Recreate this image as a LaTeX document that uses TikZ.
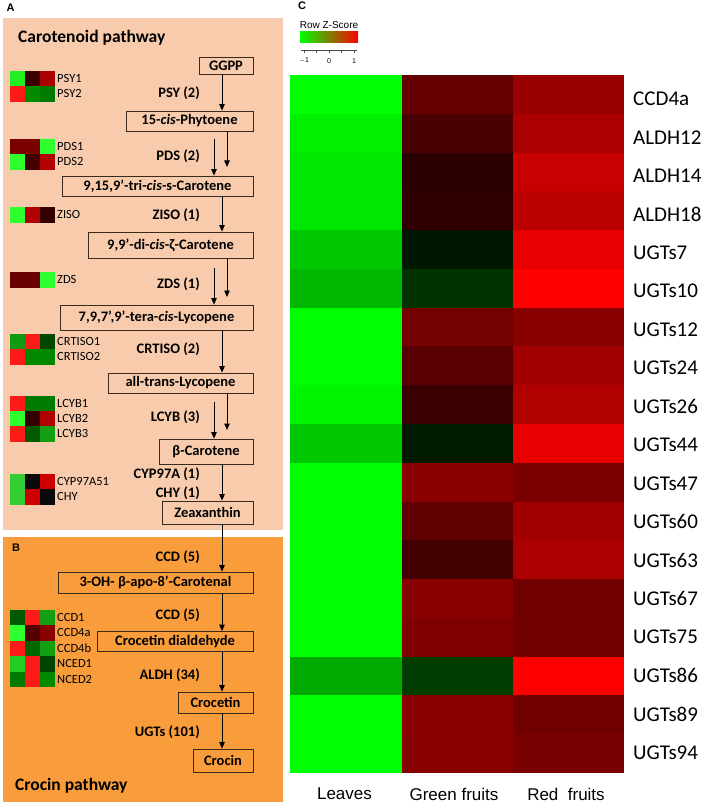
\documentclass[tikz,border=0pt]{standalone}
\usepackage{fontspec}
\setmainfont{Carlito}
\newfontfamily\arialfont{Liberation Sans}
\usetikzlibrary{arrows.meta}
\definecolor{carbg}{HTML}{F8CBAD}
\definecolor{crobg}{HTML}{F99D3C}
\definecolor{boxline}{HTML}{3A2A1C}
\definecolor{keygreen}{HTML}{00FF00}
\definecolor{keyred}{HTML}{FF0000}

% one row of a small expression strip: y, three colours, gene name
\newcommand{\generow}[5]{%
  \definecolor{gca}{HTML}{#2}\definecolor{gcb}{HTML}{#3}\definecolor{gcc}{HTML}{#4}%
  \fill[gca] (10,#1) rectangle ++(15.3,15.6);
  \fill[gcb] (25,#1) rectangle ++(15.3,15.6);
  \fill[gcc] (40,#1) rectangle ++(15,15.6);
  \node[gene] (g-#5) at (57,#1+7.5) {#5};
}

\begin{document}
\begin{tikzpicture}[x=1pt, y=-1pt,
    every node/.style={inner sep=0pt},
    box/.style={rectangle, draw=boxline, line width=0.8pt, font=\fontsize{14.5}{16}\selectfont\bfseries},
    enz/.style={anchor=east, font=\fontsize{14.5}{16}\selectfont\bfseries},
    gene/.style={anchor=west, font=\fontsize{12.5}{13}\selectfont},
    ttl/.style={anchor=base west, font=\fontsize{17.5}{19}\selectfont\bfseries},
    panel/.style={font=\arialfont\fontsize{11}{12}\selectfont\bfseries},
    hlab/.style={anchor=west, font=\fontsize{21}{23}\selectfont},
    clab/.style={font=\arialfont\fontsize{17}{19}\selectfont},
    keylab/.style={font=\arialfont\fontsize{7}{8}\selectfont},
    arr/.style={-{Triangle[length=6.5pt, width=5.5pt]}, line width=0.8pt}
  ]
  \useasboundingbox (0,0) rectangle (708,805);

  % panels A and B
  \fill[carbg] (3,18) rectangle (283,530);
  \fill[crobg] (3,537) rectangle (283,802);
  \node[panel] (pA) at (10.5,7.5) {A};
  \node[panel] (pB) at (16,547.5) {B};
  \node[panel] (pC) at (302,6) {C};
  \node[ttl] (tcar) at (18,43) {Carotenoid pathway};
  \node[ttl] (tcro) at (15,790) {Crocin pathway};

  % metabolites
  \node[box, minimum width=54, minimum height=17] (ggpp) at (226,65.5) {GGPP};
  \node[box, minimum width=127, minimum height=20] (phyt) at (189.5,121) {15-\textit{cis}-Phytoene};
  \node[box, minimum width=191, minimum height=20] (tricar) at (157.5,186) {9,15,9’-tri-\textit{cis}-s-Carotene};
  \node[box, minimum width=165, minimum height=26] (zcar) at (170.5,245) {9,9’-di-\textit{cis}-ζ-Carotene};
  \node[box, minimum width=193, minimum height=25] (tlyc) at (156.5,317.5) {7,9,7’,9’-tera-\textit{cis}-Lycopene};
  \node[box, minimum width=145, minimum height=20] (alyc) at (180.5,383) {all-trans-Lycopene};
  \node[box, minimum width=94, minimum height=25] (bcar) at (206,451.5) {β-Carotene};
  \node[box, minimum width=91, minimum height=23] (zea) at (207.5,512.5) {Zeaxanthin};
  \node[box, minimum width=195, minimum height=21] (apo) at (155.5,582.5) {3-OH- β-apo-8’-Carotenal};
  \node[box, minimum width=156, minimum height=20] (cdial) at (175,641.5) {Crocetin dialdehyde};
  \node[box, minimum width=75, minimum height=21] (crt) at (215.5,702.5) {Crocetin};
  \node[box, minimum width=60, minimum height=23] (crc) at (223,760.5) {Crocin};

  % enzymes
  \node[enz] (psy) at (200,93) {PSY (2)};
  \node[enz] (pds) at (200,156) {PDS (2)};
  \node[enz] (ziso) at (200,215) {ZISO (1)};
  \node[enz] (zds) at (200,284) {ZDS (1)};
  \node[enz] (crtiso) at (200,349) {CRTISO (2)};
  \node[enz] (lcyb) at (200,417) {LCYB (3)};
  \node[enz] (cyp) at (200,474) {CYP97A (1)};
  \node[enz] (chy) at (200,493) {CHY (1)};
  \node[enz] (ccda) at (200,557) {CCD (5)};
  \node[enz] (ccdb) at (200,615) {CCD (5)};
  \node[enz] (aldh) at (200,675) {ALDH (34)};
  \node[enz] (ugts) at (200,732) {UGTs (101)};

  % reaction arrows
  \coordinate (mainx) at (222,0);
  \coordinate (pdsA) at (227,167);
  \coordinate (pdsB) at (214,139);
  \coordinate (zdsA) at (227,297);
  \coordinate (zdsB) at (214,268);
  \coordinate (lcybA) at (227,430);
  \coordinate (lcybB) at (214,402);
  \draw[arr] (ggpp.south -| mainx) -- (phyt.north -| mainx);
  \draw[arr] (phyt.south -| pdsA) -- (pdsA);
  \draw[arr] (pdsB) -- (tricar.north -| pdsB);
  \draw[arr] (tricar.south -| mainx) -- (zcar.north -| mainx);
  \draw[arr] (zcar.south -| zdsA) -- (zdsA);
  \draw[arr] (zdsB) -- (tlyc.north -| zdsB);
  \draw[arr] (tlyc.south -| mainx) -- (alyc.north -| mainx);
  \draw[arr] (alyc.south -| lcybA) -- (lcybA);
  \draw[arr] (lcybB) -- (bcar.north -| lcybB);
  \draw[arr] (bcar.south -| mainx) -- (zea.north -| mainx);
  \draw[arr] (zea.south -| mainx) -- (apo.north -| mainx);
  \draw[arr] (apo.south -| mainx) -- (cdial.north -| mainx);
  \draw[arr] (cdial.south -| mainx) -- (crt.north -| mainx);
  \draw[arr] (crt.south -| mainx) -- (crc.north -| mainx);

  % small expression strips
  \generow{71}{22F022}{3A0000}{AA0000}{PSY1}
  \generow{86}{FF1A1A}{008A00}{007A00}{PSY2}
  \generow{139}{7A0000}{7A0000}{2EFF2E}{PDS1}
  \generow{154}{2EFF2E}{440000}{B00000}{PDS2}
  \generow{207}{2EFF2E}{B00000}{330000}{ZISO}
  \generow{272}{6A0000}{6A0000}{2EFF2E}{ZDS}
  \generow{334}{119A11}{FF1A1A}{004800}{CRTISO1}
  \generow{349}{FF1A1A}{008800}{008800}{CRTISO2}
  \generow{396}{FF1A1A}{007A00}{007A00}{LCYB1}
  \generow{411}{2EFF2E}{330000}{B00000}{LCYB2}
  \generow{426}{FF1A1A}{005A00}{12A012}{LCYB3}
  \generow{474}{33CC33}{0A0A0A}{CC0000}{CYP97A51}
  \generow{489}{33CC33}{CC0000}{0A0A0A}{CHY}
  \generow{610}{005A00}{FF1A1A}{12A012}{CCD1}
  \generow{625.4}{2EFF2E}{550000}{8A0000}{CCD4a}
  \generow{640.8}{FF1A1A}{006600}{12A012}{CCD4b}
  \generow{656.2}{22CC22}{FF1A1A}{004400}{NCED1}
  \generow{671.6}{007A00}{FF1A1A}{008A00}{NCED2}

  % colour key
  \node[font=\arialfont\fontsize{10}{11}\selectfont] (keyttl) at (329,25.5) {Row Z-Score};
  \shade[left color=keygreen, middle color=black, right color=keyred] (300,32) rectangle (358,43);
  \draw[line width=0.5pt, black!70] (301,50) -- (357,50);
  \foreach \tx in {304,316.5,329,341.5,354}
    \draw[line width=0.5pt, black!70] (\tx,50) -- (\tx,53);
  \node[keylab] (km) at (304,61) {$-$1};
  \node[keylab] (kz) at (329,61) {0};
  \node[keylab] (kp) at (354,61) {1};

  % heat map C
  \foreach \gname/\ca/\cb/\cc [count=\i from 0] in {
      CCD4a/00FF00/660000/990000, ALDH12/00F000/480000/AA0000,
      ALDH14/00E800/2A0000/C80000, ALDH18/00E800/300000/BB0000,
      UGTs7/00C800/001800/E80000, UGTs10/00B800/003300/FF0000,
      UGTs12/00FF00/750000/880000, UGTs24/00FF00/580000/A00000,
      UGTs26/00F500/3A0000/B00000, UGTs44/00C800/001A00/E80000,
      UGTs47/00FF00/8A0000/7A0000, UGTs60/00FF00/600000/A00000,
      UGTs63/00FF00/440000/AA0000, UGTs67/00FF00/880000/700000,
      UGTs75/00FF00/800000/700000, UGTs86/00AA00/003D00/FF0000,
      UGTs89/00FF00/8A0000/700000, UGTs94/00FF00/880000/780000} {
    \definecolor{hca}{HTML}{\ca}
    \definecolor{hcb}{HTML}{\cb}
    \definecolor{hcc}{HTML}{\cc}
    \fill[hca] (290,75+\i*38.78) rectangle ++(111.6,39.2);
    \fill[hcb] (401.5,75+\i*38.78) rectangle ++(111.6,39.2);
    \fill[hcc] (513,75+\i*38.78) rectangle ++(111,39.2);
    \node[hlab] (row-\gname) at (633,99+\i*38.44) {\gname};
  }
  \node[clab] (cleaves) at (344.5,794) {Leaves};
  \node[clab] (cgreen) at (454,794) {Green fruits};
  \node[clab] (cred) at (566,794) {Red\ \ fruits};
\end{tikzpicture}
\end{document}
